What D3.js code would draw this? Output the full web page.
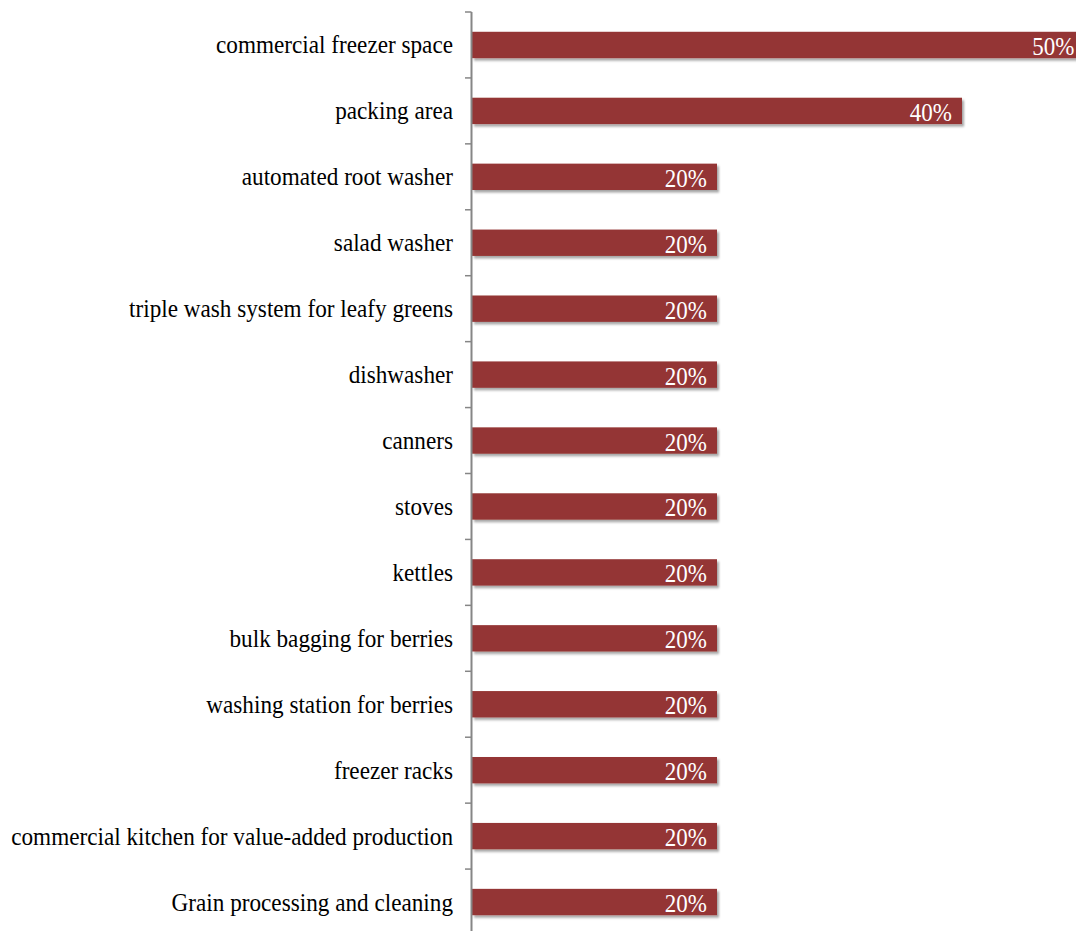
<!DOCTYPE html>
<html>
<head>
<meta charset="utf-8">
<script src="https://cdn.jsdelivr.net/npm/d3@7"></script>
<style>
  html, body { margin: 0; padding: 0; background: #fff; }
  svg { display: block; }
  text { font-family: "Liberation Serif", "Times New Roman", serif; }
</style>
</head>
<body>
<svg id="chart" width="1082" height="931"></svg>
<script>
// Equipment / facility needs, share of respondents (%)
const categories = [
  "commercial freezer space",
  "packing area",
  "automated root washer",
  "salad washer",
  "triple wash system for leafy greens",
  "dishwasher",
  "canners",
  "stoves",
  "kettles",
  "bulk bagging for berries",
  "washing station for berries",
  "freezer racks",
  "commercial kitchen for value-added production",
  "Grain processing and cleaning"
];
const values = [50, 40, 20, 20, 20, 20, 20, 20, 20, 20, 20, 20, 20, 20];

const svg = d3.select("#chart");
const W = 1082, H = 931;
const x0 = 472, plotRight = 1076;
const yTop = 12, yBottom = 935;

const x = d3.scaleLinear().domain([0, 50]).range([x0, 1084.5]);
const y = d3.scaleBand().domain(categories).range([yTop, yBottom]);
const barH = y.bandwidth() * 0.4;
const barY = c => y(c) + (y.bandwidth() - barH) / 2;

const defs = svg.append("defs");
defs.append("clipPath").attr("id", "plotClip")
  .append("rect").attr("x", x0).attr("y", 0).attr("width", plotRight - x0).attr("height", H);
const f = defs.append("filter").attr("id", "shadow")
  .attr("x", "-5%").attr("y", "-30%").attr("width", "110%").attr("height", "170%");
f.append("feDropShadow").attr("dx", 2).attr("dy", 2.5).attr("stdDeviation", 1.2)
  .attr("flood-color", "#000").attr("flood-opacity", 0.35);

const rows = categories.map((c, i) => ({ c, v: values[i] }));

const plot = svg.append("g").attr("clip-path", "url(#plotClip)");
plot.selectAll("rect.bar").data(rows).join("rect")
  .attr("class", "bar")
  .attr("x", x(0))
  .attr("y", d => barY(d.c))
  .attr("width", d => x(d.v) - x(0))
  .attr("height", barH)
  .attr("fill", "#943634")
  .attr("filter", "url(#shadow)");

// value labels inside bar ends
plot.selectAll("text.val").data(rows).join("text")
  .attr("class", "val")
  .attr("transform", d => `translate(${x(d.v) - 10},${y(d.c) + y.bandwidth() / 2 + 10}) scale(1,1.12)`)
  .attr("text-anchor", "end")
  .attr("fill", "#fff")
  .style("font-size", "23px")
  .text(d => d.v + "%");

// category axis with outward tick marks between bands
const axisG = svg.append("g");
axisG.append("line")
  .attr("x1", 471.5).attr("x2", 471.5).attr("y1", yTop).attr("y2", H)
  .attr("stroke", "#868686").attr("stroke-width", 2);
const tickPos = categories.map(c => y(c)).concat([yBottom]);
axisG.selectAll("line.tick").data(tickPos).join("line")
  .attr("class", "tick")
  .attr("x1", 465).attr("x2", 471.5)
  .attr("y1", d => d).attr("y2", d => d)
  .attr("stroke", "#868686").attr("stroke-width", 1.5);

axisG.selectAll("text.cat").data(categories).join("text")
  .attr("class", "cat")
  .attr("transform", c => `translate(453,${y(c) + y.bandwidth() / 2 + 8.5}) scale(1,1.12)`)
  .attr("text-anchor", "end")
  .attr("fill", "#000")
  .style("font-size", "23.2px")
  .text(c => c);
</script>
</body>
</html>
